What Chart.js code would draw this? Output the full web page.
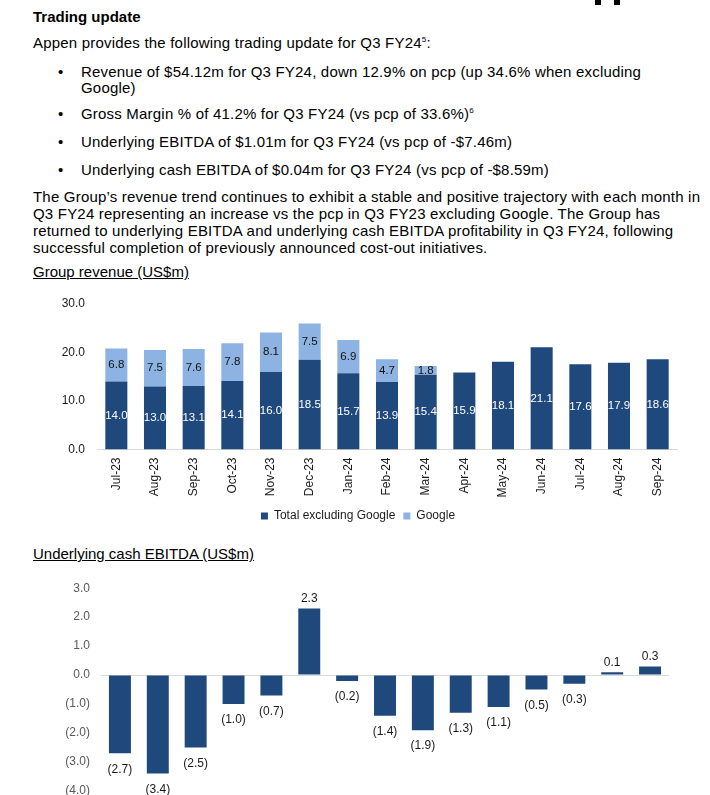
<!DOCTYPE html>
<html>
<head>
<meta charset="utf-8">
<script src="https://cdn.jsdelivr.net/npm/chart.js@4"></script>
<style>
  html, body { margin: 0; padding: 0; background: #fff; }
  body { width: 710px; height: 795px; overflow: hidden; position: relative;
         font-family: "Liberation Sans", Arial, sans-serif; color: #000; }
  .ln { position: absolute; left: 33px; font-size: 15px; line-height: 17px; white-space: nowrap; letter-spacing: 0.2px; }
  .bl { left: 81px; }
  .dot { position: absolute; left: 58px; font-size: 15px; line-height: 17px; }
  .u { text-decoration: underline; letter-spacing: 0; }
  sup { font-size: 8px; line-height: 0; position: relative; top: -6px; vertical-align: baseline; }
  .box { position: absolute; }
  .logo { position: absolute; top: 0; width: 6px; height: 5px; background: #000; }
</style>
</head>
<body>
<div class="logo" style="left:595px"></div>
<div class="logo" style="left:614px"></div>

<div class="ln" style="top:8px;font-weight:bold;letter-spacing:0">Trading update</div>
<div class="ln" style="top:34px">Appen provides the following trading update for Q3 FY24<sup>5</sup>:</div>

<div class="dot" style="top:63px">•</div>
<div class="ln bl" style="top:63px">Revenue of $54.12m for Q3 FY24, down 12.9% on pcp (up 34.6% when excluding</div>
<div class="ln bl" style="top:79px">Google)</div>
<div class="dot" style="top:105px">•</div>
<div class="ln bl" style="top:105px">Gross Margin % of 41.2% for Q3 FY24 (vs pcp of 33.6%)<sup>6</sup></div>
<div class="dot" style="top:133px">•</div>
<div class="ln bl" style="top:133px">Underlying EBITDA of $1.01m for Q3 FY24 (vs pcp of -$7.46m)</div>
<div class="dot" style="top:161px">•</div>
<div class="ln bl" style="top:161px">Underlying cash EBITDA of $0.04m for Q3 FY24 (vs pcp of -$8.59m)</div>

<div class="ln" style="top:188px">The Group’s revenue trend continues to exhibit a stable and positive trajectory with each month in</div>
<div class="ln" style="top:205px">Q3 FY24 representing an increase vs the pcp in Q3 FY23 excluding Google. The Group has</div>
<div class="ln" style="top:222px">returned to underlying EBITDA and underlying cash EBITDA profitability in Q3 FY24, following</div>
<div class="ln" style="top:239px">successful completion of previously announced cost-out initiatives.</div>

<div class="ln u" style="top:263px">Group revenue (US$m)</div>
<div class="box" style="left:0;top:284px;width:710px;height:248px"><canvas id="revenueChart"></canvas></div>

<div class="ln u" style="top:545px">Underlying cash EBITDA (US$m)</div>
<div class="box" style="left:0;top:570px;width:710px;height:241px"><canvas id="ebitdaChart"></canvas></div>

<script>
// Months shared by both charts
const months = ['Jul-23', 'Aug-23', 'Sep-23', 'Oct-23', 'Nov-23', 'Dec-23', 'Jan-24', 'Feb-24',
                'Mar-24', 'Apr-24', 'May-24', 'Jun-24', 'Jul-24', 'Aug-24', 'Sep-24'];

// Group revenue (US$m)
const revenueExGoogle = [14.0, 13.0, 13.1, 14.1, 16.0, 18.5, 15.7, 13.9, 15.4, 15.9, 18.1, 21.1, 17.6, 17.9, 18.6];
const revenueGoogle = [6.8, 7.5, 7.6, 7.8, 8.1, 7.5, 6.9, 4.7, 1.8, null, null, null, null, null, null];
const revenueTicks = [0, 10, 20, 30];

// Underlying cash EBITDA (US$m)
const cashEbitda = [-2.7, -3.4, -2.5, -1.0, -0.7, 2.3, -0.2, -1.4, -1.9, -1.3, -1.1, -0.5, -0.3, 0.1, 0.3];
const ebitdaTicks = [3, 2, 1, 0, -1, -2, -3, -4];

const darkBlue = '#1f497d';
const lightBlue = '#8db3e2';
const fontFamily = '"Liberation Sans", Arial, sans-serif';

Chart.defaults.font.family = fontFamily;
Chart.defaults.animation = false;

// draws the value labels on the bars
const barLabels = {
    id: 'barLabels',
    afterDatasetsDraw(chart, args, opts) {
        const ctx = chart.ctx;
        ctx.save();
        chart.data.datasets.forEach((ds, i) => {
            const meta = chart.getDatasetMeta(i);
            meta.data.forEach((bar, j) => {
                const v = ds.data[j];
                if (v === null || v === undefined) return;
                ctx.font = opts.size + 'px ' + fontFamily;
                ctx.textAlign = 'center';
                ctx.textBaseline = 'middle';
                let y;
                if (opts.mode === 'center') {
                    y = (bar.y + bar.base) / 2;
                    ctx.fillStyle = i === 0 ? '#ffffff' : '#111111';
                } else {
                    y = v >= 0 ? bar.y - 9.5 : bar.y + 16;
                    ctx.fillStyle = '#1a1a1a';
                }
                const txt = v < 0 ? '(' + Math.abs(v).toFixed(1) + ')' : v.toFixed(1);
                ctx.fillText(txt, bar.x, y);
            });
        });
        ctx.restore();
    }
};

new Chart(document.getElementById('revenueChart'), {
    type: 'bar',
    data: {
        labels: months,
        datasets: [
            { label: 'Total excluding Google', data: revenueExGoogle, backgroundColor: darkBlue,
              barPercentage: 0.57, categoryPercentage: 1.0 },
            { label: 'Google', data: revenueGoogle, backgroundColor: lightBlue,
              barPercentage: 0.57, categoryPercentage: 1.0 }
        ]
    },
    options: {
        responsive: true,
        maintainAspectRatio: false,
        layout: { padding: { top: 20, left: 39, right: 33, bottom: 0 } },
        plugins: {
            legend: {
                position: 'bottom',
                labels: { boxWidth: 7, boxHeight: 7, padding: 8, color: '#1a1a1a',
                          font: { size: 12 } }
            },
            tooltip: { enabled: false },
            barLabels: { mode: 'center', size: 11.5 }
        },
        scales: {
            x: {
                stacked: true,
                grid: { display: false, drawTicks: false },
                border: { color: '#d9d9d9' },
                ticks: { minRotation: 90, maxRotation: 90, padding: 8, color: '#1a1a1a',
                         font: { size: 12 } },
                afterFit(s) { s.height = 52.5; }
            },
            y: {
                stacked: true,
                min: 0,
                max: 30,
                afterBuildTicks(s) { s.ticks = revenueTicks.map(v => ({ value: v })); },
                grid: { display: false, drawTicks: false },
                border: { display: false },
                ticks: { padding: 12, color: '#1a1a1a', font: { size: 12 },
                         callback: v => v.toFixed(1) },
                afterFit(s) { s.width = 58; }
            }
        }
    },
    plugins: [barLabels]
});

new Chart(document.getElementById('ebitdaChart'), {
    type: 'bar',
    data: {
        labels: months,
        datasets: [
            { label: 'Underlying cash EBITDA', data: cashEbitda, backgroundColor: darkBlue,
              barPercentage: 0.58, categoryPercentage: 1.0 }
        ]
    },
    options: {
        responsive: true,
        maintainAspectRatio: false,
        layout: { padding: { top: 15, left: 0, right: 41, bottom: 20 } },
        plugins: {
            legend: { display: false },
            tooltip: { enabled: false },
            barLabels: { mode: 'end', size: 12 }
        },
        scales: {
            x: { display: false },
            y: {
                min: -4,
                max: 3,
                afterBuildTicks(s) { s.ticks = ebitdaTicks.map(v => ({ value: v })); },
                grid: { drawTicks: false, color: c => (c.tick && c.tick.value === 0 ? '#d9d9d9' : 'rgba(0,0,0,0)') },
                border: { display: false },
                ticks: { padding: 11, color: '#595959', font: { size: 12 },
                         callback: v => (v < 0 ? '(' + Math.abs(v).toFixed(1) + ')' : v.toFixed(1)) },
                afterFit(s) { s.width = 101; }
            }
        }
    },
    plugins: [barLabels]
});
</script>
</body>
</html>
